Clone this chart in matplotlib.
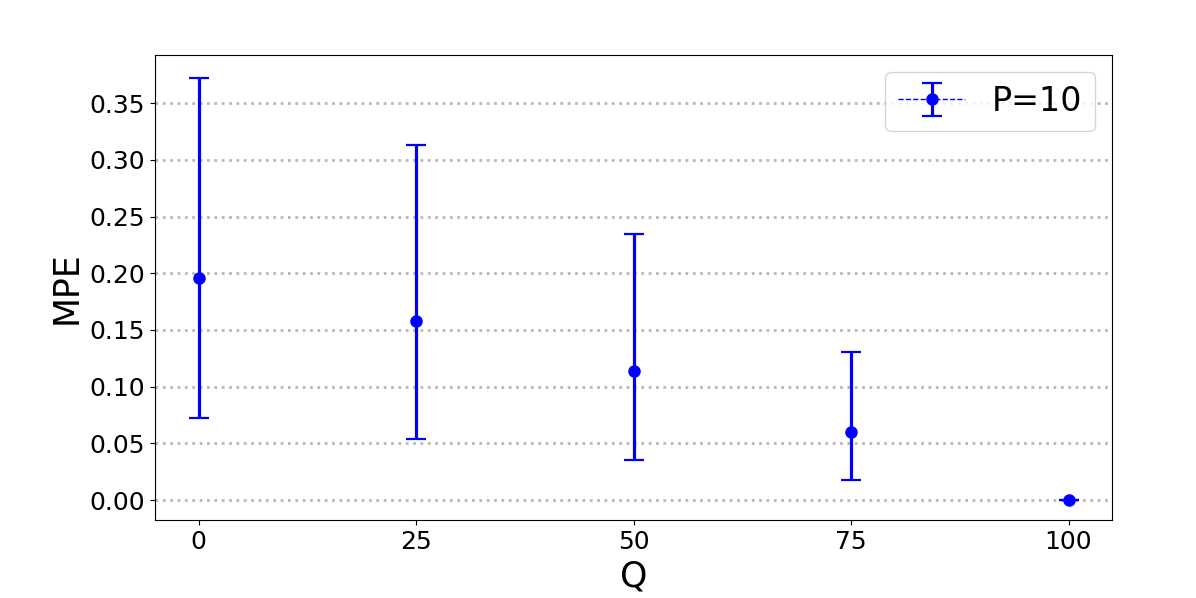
import matplotlib
matplotlib.use("Agg")
import matplotlib.pyplot as plt
import numpy as np

q = [0, 25, 50, 75, 100]
mpe = [0.196, 0.158, 0.114, 0.060, 0.000]
lower = [0.072, 0.054, 0.0355, 0.0175, 0.000]
upper = [0.372, 0.313, 0.2345, 0.1305, 0.000]
label = "P=10"

mpe_a = np.array(mpe)
yerr = [mpe_a - np.array(lower), np.array(upper) - mpe_a]

fig = plt.figure(figsize=(11.96, 5.98), dpi=100)
ax = fig.add_axes([0.1296, 0.1304, 0.8002, 0.7776])
eb = ax.errorbar(q, mpe, yerr=yerr, fmt='o--', color='blue', lw=1,
                 elinewidth=2.3, capsize=7.5, capthick=1.6, markersize=8,
                 label=label)
ax.set_ylim(-0.0176, 0.3924)
ax.yaxis.grid(True, linestyle=':', color='#b8b8b8', lw=2)
ax.set_axisbelow(True)
ax.set_xticks(q)
ax.tick_params(labelsize=18)
ax.set_xlabel("Q", fontsize=25)
ax.set_ylabel("MPE", fontsize=25)
ax.legend(loc='upper right', fontsize=24)
eb[0].set_linestyle('none')
fig.savefig("out.png", dpi=100)
